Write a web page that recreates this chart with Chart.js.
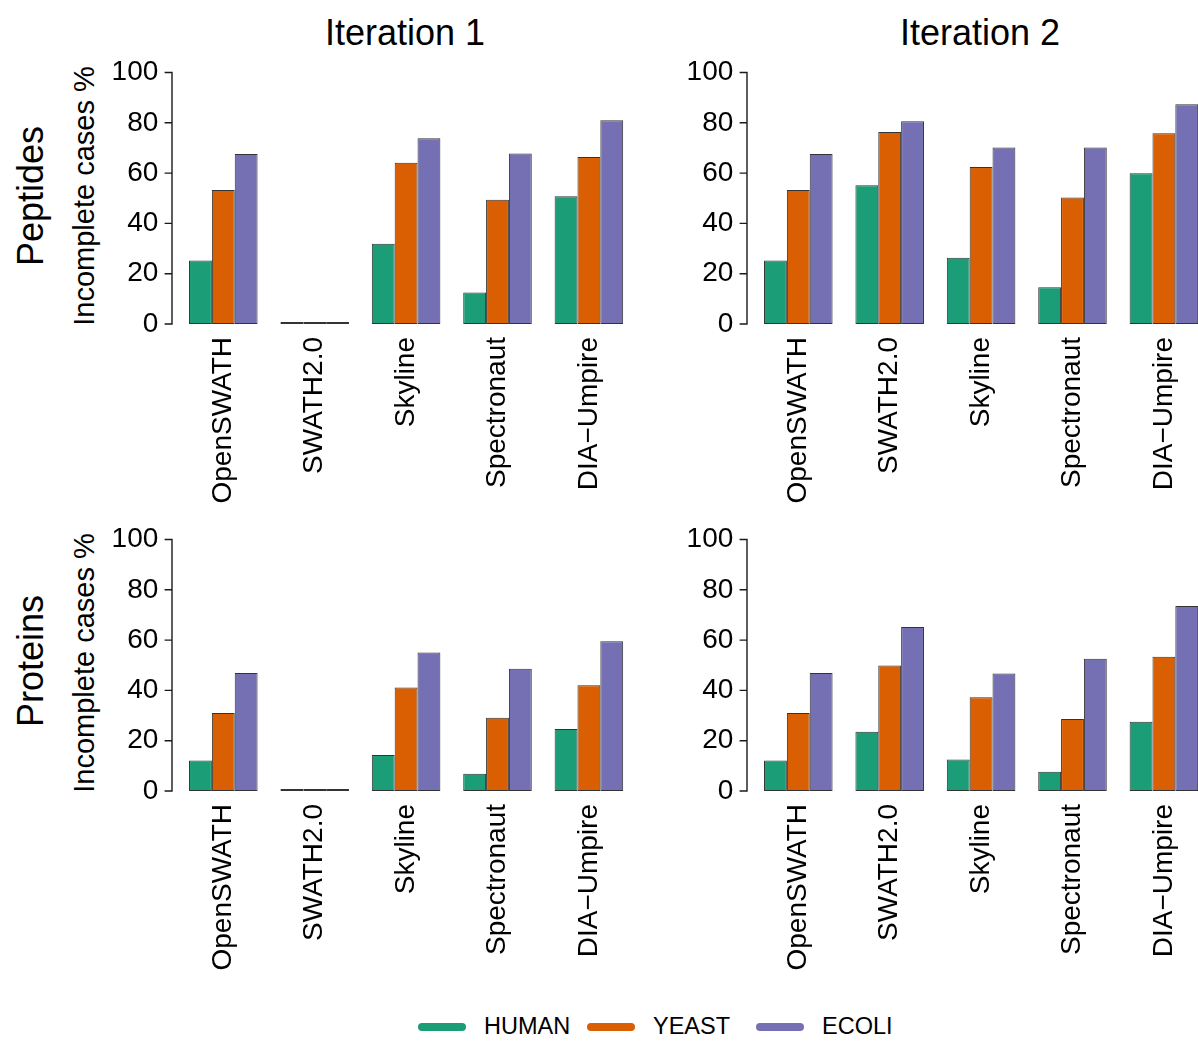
<!DOCTYPE html>
<html>
<head>
<meta charset="utf-8">
<script src="https://cdn.jsdelivr.net/npm/chart.js@4.4.1/dist/chart.umd.min.js"></script>
<style>
  html, body { margin: 0; padding: 0; width: 1198px; height: 1041px; overflow: hidden; background: #fff; }
  body { position: relative; font-family: "Liberation Sans", Arial, Helvetica, sans-serif; color: #000; }
  .panel { position: absolute; line-height: 0; }
  .txt { position: absolute; white-space: nowrap; line-height: 1; transform: translate(-50%, -50%); }
  .rot { transform: translate(-50%, -50%) rotate(-90deg); }
  .col-title, .row-title { font-size: 36px; }
  .y-title { font-size: 29px; }
  .legend-item { position: absolute; top: 1015px; height: 24px; display: flex; align-items: center; font-size: 23.5px; white-space: nowrap; line-height: 1; }
  .swatch { width: 48px; height: 8px; border-radius: 4px; margin-right: 18px; }
</style>
</head>
<body>

<div class="txt col-title" style="left:405px; top:33px;">Iteration 1</div>
<div class="txt col-title" style="left:980px; top:33px;">Iteration 2</div>

<div class="txt rot row-title" style="left:31px; top:196px;">Peptides</div>
<div class="txt rot row-title" style="left:31px; top:661px;">Proteins</div>

<div class="txt rot y-title" style="left:84px; top:196px;">Incomplete cases %</div>
<div class="txt rot y-title" style="left:84px; top:663px;">Incomplete cases %</div>

<div class="panel" style="left:100px; top:32px;"><canvas id="pepIter1" width="560" height="488"></canvas></div>
<div class="panel" style="left:675px; top:32px;"><canvas id="pepIter2" width="560" height="488"></canvas></div>
<div class="panel" style="left:100px; top:499px;"><canvas id="protIter1" width="560" height="488"></canvas></div>
<div class="panel" style="left:675px; top:499px;"><canvas id="protIter2" width="560" height="488"></canvas></div>

<div id="legend"></div>

<script>
// Software tools compared
const methods = ['OpenSWATH', 'SWATH2.0', 'Skyline', 'Spectronaut', 'DIA\u2212Umpire'];
const species = ['HUMAN', 'YEAST', 'ECOLI'];
const speciesColors = ['#1B9E77', '#D95F02', '#7570B3'];
const yTicks = [0, 20, 40, 60, 80, 100];

// Incomplete cases (%) — peptides, iteration 1
const pepIter1Human = [25.2, 0, 31.9, 12.5, 50.8];
const pepIter1Yeast = [53.3, 0, 64.1, 49.4, 66.4];
const pepIter1Ecoli = [67.6, 0, 73.9, 67.8, 81.0];

// Incomplete cases (%) — peptides, iteration 2
const pepIter2Human = [25.2, 55.2, 26.3, 14.6, 59.9];
const pepIter2Yeast = [53.3, 76.3, 62.4, 50.3, 75.8];
const pepIter2Ecoli = [67.6, 80.6, 70.2, 70.2, 87.4];

// Incomplete cases (%) — proteins, iteration 1
const protIter1Human = [12.1, 0, 14.3, 6.9, 24.7];
const protIter1Yeast = [31.0, 0, 41.2, 29.1, 42.0];
const protIter1Ecoli = [46.9, 0, 55.1, 48.6, 59.5];

// Incomplete cases (%) — proteins, iteration 2
const protIter2Human = [12.1, 23.6, 12.5, 7.7, 27.5];
const protIter2Yeast = [31.0, 49.9, 37.3, 28.6, 53.4];
const protIter2Ecoli = [46.9, 65.2, 46.7, 52.6, 73.6];

// Layout of each panel inside its canvas
const FONT = '"Liberation Sans", Arial, Helvetica, sans-serif';
const Y_SCALE_W = 77.6;   // room left of the plotting area
const X_SCALE_H = 196;    // room below the plotting area
const PAD_TOP = 40.5;     // large enough to cover the y scale's own label padding
const PAD_RIGHT = 25.4;
const AXIS_GAP = 5.6;     // y axis line sits a little left of the first bar group
const TICK_LEN = 6.7;

// Draws the y axis line and its tick marks, detached from the bars like base R
const detachedYAxis = {
  id: 'detachedYAxis',
  afterDraw(chart) {
    const ys = chart.scales.y;
    const ctx = chart.ctx;
    const x = chart.chartArea.left - AXIS_GAP;
    ctx.save();
    ctx.strokeStyle = '#1a1a1a';
    ctx.lineWidth = 1.4;
    ctx.lineCap = 'square';
    ctx.beginPath();
    ctx.moveTo(x, ys.getPixelForValue(yTicks[yTicks.length - 1]));
    ctx.lineTo(x, ys.getPixelForValue(yTicks[0]));
    yTicks.forEach(v => {
      const p = ys.getPixelForValue(v);
      ctx.moveTo(x, p);
      ctx.lineTo(x - TICK_LEN, p);
    });
    ctx.stroke();
    ctx.restore();
  }
};

function makePanel(id, human, yeast, ecoli) {
  const series = [human, yeast, ecoli];
  new Chart(document.getElementById(id), {
    type: 'bar',
    data: {
      labels: methods,
      datasets: series.map((values, i) => ({
        label: species[i],
        data: values,
        backgroundColor: speciesColors[i],
        borderColor: '#333333',
        borderWidth: 1,
        borderSkipped: false,
        barPercentage: 1.0,
        categoryPercentage: 0.75,
        minBarLength: 2
      }))
    },
    options: {
      responsive: false,
      animation: false,
      events: [],
      layout: { padding: { top: PAD_TOP, right: PAD_RIGHT, bottom: 0, left: 0 } },
      plugins: { legend: { display: false }, tooltip: { enabled: false }, title: { display: false } },
      scales: {
        x: {
          type: 'category',
          grid: { display: false, drawTicks: false },
          border: { display: false },
          ticks: {
            autoSkip: false,
            minRotation: 90,
            maxRotation: 90,
            padding: 13,
            color: '#000',
            font: { family: FONT, size: 28 }
          },
          afterFit(scale) { scale.height = X_SCALE_H; }
        },
        y: {
          min: 0,
          max: 100,
          afterBuildTicks(scale) { scale.ticks = yTicks.map(v => ({ value: v })); },
          grid: { display: false, drawTicks: false },
          border: { display: false },
          ticks: {
            padding: 19.3,
            color: '#000',
            font: { family: FONT, size: 28 }
          },
          afterFit(scale) { scale.width = Y_SCALE_W; }
        }
      }
    },
    plugins: [detachedYAxis]
  });
}

makePanel('pepIter1', pepIter1Human, pepIter1Yeast, pepIter1Ecoli);
makePanel('pepIter2', pepIter2Human, pepIter2Yeast, pepIter2Ecoli);
makePanel('protIter1', protIter1Human, protIter1Yeast, protIter1Ecoli);
makePanel('protIter2', protIter2Human, protIter2Yeast, protIter2Ecoli);

// Legend below the panels
const legendLefts = [418, 587, 756];
const legend = document.getElementById('legend');
species.forEach((name, i) => {
  const item = document.createElement('div');
  item.className = 'legend-item';
  item.style.left = legendLefts[i] + 'px';
  const sw = document.createElement('span');
  sw.className = 'swatch';
  sw.style.background = speciesColors[i];
  const label = document.createElement('span');
  label.textContent = name;
  item.appendChild(sw);
  item.appendChild(label);
  legend.appendChild(item);
});
</script>
</body>
</html>
